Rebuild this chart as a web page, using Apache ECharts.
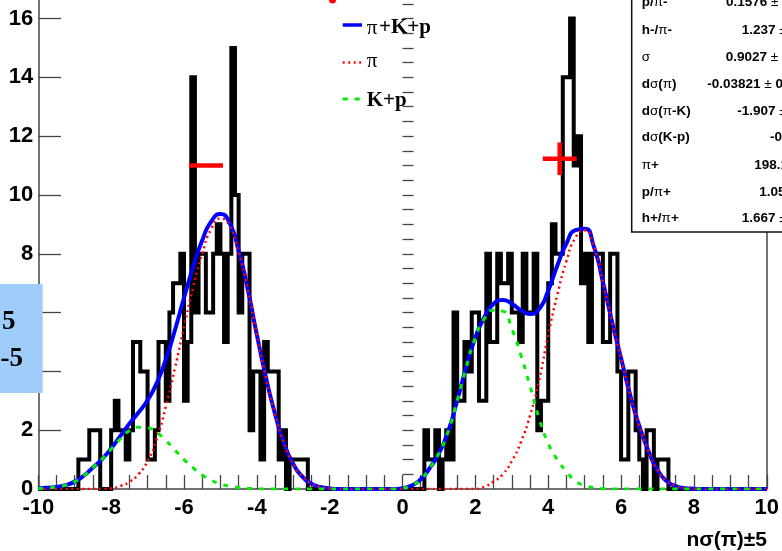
<!DOCTYPE html>
<html><head><meta charset="utf-8">
<script src="https://cdn.jsdelivr.net/npm/echarts@6/dist/echarts.min.js"></script>
<style>html,body{margin:0;padding:0;background:#fff}#c{width:782px;height:551px}</style>
</head><body><div id="c"></div>
<script>
// ---------- data ----------
const binStart = -10, binWidth = 0.1, binCount = 200;
const negStart = -9.5;   // first listed bin of the negative (shifted -5) half
const countsNeg = [0,0,0,0,0,0,1,1,1,2,
  2,2,0,0,0,2,3,2,2,1,
  2,5,5,4,4,1,1,2,5,5,
  3,6,7,7,8,3,5,14,6,8,
  8,6,6,8,9,8,5,8,15,10,
  6,8,8,2,4,4,1,5,4,4,
  4,1,2,0,1,1,1,1,1,0];
const posStart = 0.5;    // first listed bin of the positive (shifted +5) half
const countsPos = [0,2,1,1,2,0,1,2,1,6,
  3,3,5,4,6,6,3,3,8,5,
  5,8,7,7,8,6,6,5,8,6,
  6,8,2,3,3,7,9,8,8,14,
  14,16,11,12,7,8,5,8,8,8,
  5,5,8,8,4,1,1,4,4,2,
  1,0,2,2,0,1,1,1,0,0];

const curveX = [-10,-9.75,-9.5,-9.25,-9,-8.75,-8.5,-8.25,-8,-7.75,-7.5,-7.25,-7,-6.75,-6.5,-6.25,-6,-5.75,-5.5,-5.25,
  -5,-4.75,-4.5,-4.25,-4,-3.75,-3.5,-3.25,-3,-2.75,-2.5,-2.25,-2,-1.75,-1.5,-1.25,-1,-0.75,-0.5,-0.25,
  0,0.25,0.5,0.75,1,1.25,1.5,1.75,2,2.25,2.5,2.75,3,3.25,3.5,3.75,4,4.25,4.5,4.75,
  5,5.25,5.5,5.75,6,6.25,6.5,6.75,7,7.25,7.5,7.75,8,8.25,8.5,8.75,9,9.25,9.5,9.75,10];
const fitTotal = [0.02,0.04,0.07,0.13,0.25,0.45,0.73,1.02,1.38,1.8,2.22,2.6,3.02,3.6,4.4,5.4,6.5,7.55,8.45,9.1,
  9.35,9.05,8.1,6.8,5.25,3.8,2.55,1.55,0.85,0.42,0.18,0.07,0.02,0,0,0,0,0,0,0,
  0.03,0.12,0.33,0.72,1.22,1.95,3.0,4.15,5.15,5.85,6.3,6.43,6.3,6.08,5.95,6.12,6.75,7.6,8.35,8.8,
  8.85,8.25,7.05,5.7,4.45,3.2,2.15,1.3,0.65,0.27,0.1,0.03,0.01,0,0,0,0,0,0,0,0];
const fitPion = [0,0,0,0,0,0,0,0,0.02,0.1,0.24,0.5,0.95,1.7,2.8,4.1,5.5,6.85,8.0,8.85,
  9.2,8.95,8.05,6.8,5.25,3.8,2.55,1.55,0.85,0.42,0.18,0.07,0.02,0,0,0,0,0,0,0,
  0,0,0,0,0,0,0,0,0,0.08,0.25,0.5,0.95,1.6,2.5,3.7,5.25,6.6,7.75,8.55,
  8.8,8.25,7.05,5.7,4.45,3.2,2.15,1.3,0.65,0.27,0.1,0.03,0.01,0,0,0,0,0,0,0,0];
const fitKp = [0.02,0.04,0.07,0.13,0.25,0.45,0.73,1.02,1.36,1.7,1.98,2.1,2.08,1.92,1.65,1.32,1.0,0.72,0.48,0.3,
  0.17,0.1,0.05,0.02,0.01,0,0,0,0,0,0,0,0,0,0,0,0,0,0,0,
  0.03,0.12,0.33,0.72,1.22,1.95,3.0,4.15,5.15,5.8,6.08,6.05,5.45,4.55,3.5,2.4,1.55,1.0,0.6,0.27,
  0.12,0.05,0.01,0,0,0,0,0,0,0,0,0,0,0,0,0,0,0,0,0,0];

const markerX = [-5.395, 4.315];
const markerY = [11.0, 11.23];
const markerErrX = [0.465, 0.465];
const markerErrY = [0, 0.55];

const yMajor = [0,2,4,6,8,10,12,14,16];
const yMinor = [0.5,1,1.5,2,2.5,3,3.5,4,4.5,5,5.5,6,6.5,7,7.5,8,8.5,9,9.5,10,10.5,11,11.5,12,12.5,13,13.5,14,14.5,15,15.5,16,16.5];

const statLabels = ['{b|p/}{g|π}{b|-}', '{b|h-/}{g|π}{b|-}', '{g|σ}', '{b|d}{g|σ}{b|(}{g|π}{b|)}',
  '{b|d}{g|σ}{b|(}{g|π}{b|-K)}', '{b|d}{g|σ}{b|(K-p)}', '{g|π}{b|+}', '{b|p/}{g|π}{b|+}', '{b|h+/}{g|π}{b|+}'];
const statValues = ['0.1576', '1.237', '0.9027', '-0.03821', '-1.907', '-0.8012', '198.1', '1.052', '1.667'];
const statErrors = ['0.0213', '0.121', '0.0244', '0.0412', '0.132', '', '', '', '0.118'];

// ---------- build ----------
const histCounts = new Array(binCount).fill(0);
const k0 = Math.round((negStart - binStart) / binWidth);
countsNeg.forEach((c, i) => { histCounts[k0 + i] = c; });
const k1 = Math.round((posStart - binStart) / binWidth);
countsPos.forEach((c, i) => { histCounts[k1 + i] = c; });
const histData = histCounts.map((c, i) => [Math.round((binStart + i * binWidth) * 100) / 100, c]);
histData.push([binStart + binCount * binWidth, 0]);

const zip = ys => curveX.map((x, i) => [x, ys[i]]);

const markerSeries = [];
markerX.forEach((x, i) => {
  markerSeries.push({type:'line', data:[[x - markerErrX[i], markerY[i]], [x + markerErrX[i], markerY[i]]],
    symbol:'none', lineStyle:{color:'#ff0000', width:4.5, cap:'butt'}, z:3, silent:true});
  if (markerErrY[i] > 0) markerSeries.push({type:'line', data:[[x, markerY[i] - markerErrY[i]], [x, markerY[i] + markerErrY[i]]],
    symbol:'none', lineStyle:{color:'#ff0000', width:4.5, cap:'butt'}, z:3, silent:true});
});

const SANS = '"Liberation Sans", Arial, sans-serif';
const SERIF = '"Liberation Serif", "Times New Roman", serif';
const statRows = [2, 30, 57, 84.3, 111, 137.7, 165.7, 192.3, 218.3];
const statValX = [726, 741.7, 725.7, 707.3, 737.3, 770, 754.3, 759.3, 741.7];
const richStat = {
  b:{fontFamily:SANS, fontWeight:'bold', fontSize:13.5, fill:'#000'},
  g:{fontFamily:SANS, fontWeight:'normal', fontSize:13.5, fill:'#000'}
};
const mid = {textVerticalAlign:'middle', verticalAlign:'middle'};

const graphics = [];
// stats box
graphics.push({type:'rect', shape:{x:631.7, y:-10, width:200, height:242}, style:{fill:'#fff', stroke:'#111', lineWidth:1.5}, z:50});
statLabels.forEach((t, i) => {
  graphics.push({type:'text', x:641.7, y:statRows[i], z:51, style:Object.assign({text:t, rich:richStat}, mid)});
  const err = statErrors[i] ? '{g| ± }{b|' + statErrors[i] + '}' : '';
  graphics.push({type:'text', x:statValX[i], y:statRows[i], z:51,
    style:Object.assign({text:'{b|' + statValues[i] + '}' + err, rich:richStat}, mid)});
});
// legend
const legY = [25, 62.5, 99];
graphics.push({type:'line', shape:{x1:342.7, y1:legY[0], x2:362, y2:legY[0]}, style:{stroke:'#0000ff', lineWidth:3.5}, z:40});
graphics.push({type:'line', shape:{x1:342.7, y1:legY[1], x2:362, y2:legY[1]}, style:{stroke:'#ff0000', lineWidth:2.5, lineDash:[2,3.5]}, z:40});
graphics.push({type:'line', shape:{x1:342.7, y1:legY[2], x2:362, y2:legY[2]}, style:{stroke:'#00ee00', lineWidth:3, lineDash:[5,7]}, z:40});
const fontReg = '21px ' + SERIF, fontBold = 'bold 21px ' + SERIF;
graphics.push({type:'text', x:366.7, y:28, z:40, style:Object.assign({text:'π', font:fontReg, fill:'#000'}, mid)});
graphics.push({type:'text', x:379, y:28, z:40, style:Object.assign({text:'+K+p', font:fontBold, fill:'#000'}, mid)});
graphics.push({type:'text', x:366.7, y:61, z:40, style:Object.assign({text:'π', font:fontReg, fill:'#000'}, mid)});
graphics.push({type:'text', x:366.7, y:100.5, z:40, style:Object.assign({text:'K+p', font:fontBold, fill:'#000'}, mid)});
// red fragment at top
graphics.push({type:'circle', shape:{cx:332.5, cy:0, r:3.5}, style:{fill:'#ff0000'}, z:40});
// blue box on the left
graphics.push({type:'rect', shape:{x:-2, y:284, width:44.7, height:109}, style:{fill:'#9ecdfa'}, z:60});
graphics.push({type:'text', x:15.5, y:322, z:61, style:Object.assign({text:'5', font:'bold 27px ' + SERIF, fill:'#000', textAlign:'right', align:'right'}, mid)});
graphics.push({type:'text', x:23, y:359, z:61, style:Object.assign({text:'-5', font:'bold 27px ' + SERIF, fill:'#000', textAlign:'right', align:'right'}, mid)});
// x axis title
graphics.push({type:'text', x:767, y:540, z:40, style:Object.assign({text:'nσ(π)±5', font:'bold 21px ' + SANS, fill:'#000', textAlign:'right', align:'right'}, mid)});

const axisCol = '#444';
const option = {
  animation:false,
  backgroundColor:'#fff',
  grid:{left:38.3, right:14.3, top:0, bottom:62, containLabel:false},
  xAxis:{type:'value', min:-10, max:10, interval:2,
    axisLine:{show:true, onZero:false, lineStyle:{color:axisCol, width:1.5}},
    axisTick:{show:true, inside:true, length:14, lineStyle:{color:axisCol, width:1.3}},
    minorTick:{show:true, splitNumber:4, length:14, lineStyle:{color:axisCol, width:1.3}},
    axisLabel:{show:true, margin:8, color:'#000', fontFamily:SANS, fontWeight:'bold', fontSize:22},
    splitLine:{show:false}},
  yAxis:[
    {type:'value', min:0, max:16.63, position:'left',
      axisLine:{show:true, onZero:false, lineStyle:{color:axisCol, width:1.5}},
      axisTick:{show:true, inside:true, length:22.7, customValues:yMajor, lineStyle:{color:axisCol, width:1.3}},
      axisLabel:{show:true, margin:5, customValues:yMajor, color:'#000', fontFamily:SANS, fontWeight:'bold', fontSize:22},
      splitLine:{show:false}},
    {type:'value', min:0, max:16.63, position:'left',
      axisLine:{show:false},
      axisTick:{show:true, inside:true, length:11, customValues:yMinor, lineStyle:{color:axisCol, width:1.3}},
      axisLabel:{show:false}, splitLine:{show:false}},
    {type:'value', min:0, max:16.63, position:'right',
      axisLine:{show:true, onZero:false, lineStyle:{color:axisCol, width:1.5}},
      axisTick:{show:false}, axisLabel:{show:false}, splitLine:{show:false}}
  ],
  graphic:{elements:graphics},
  series:[
    {type:'line', name:'data', data:histData, step:'end', symbol:'none', clip:false,
      lineStyle:{color:'#000', width:4, join:'miter', cap:'butt'}, z:2, silent:true},
    ...markerSeries,
    {type:'line', name:'π+K+p', data:zip(fitTotal), smooth:0.6, symbol:'none',
      lineStyle:{color:'#0000ff', width:4, join:'round'}, z:4, silent:true},
    {type:'line', name:'π', data:zip(fitPion), smooth:0.6, symbol:'none',
      lineStyle:{color:'#ff0000', width:2.5, type:[2,3.5]}, z:5, silent:true},
    {type:'line', name:'K+p', data:zip(fitKp), smooth:0.6, symbol:'none',
      lineStyle:{color:'#00ee00', width:3, type:[5,7]}, z:6, silent:true}
  ]
};
const chart = echarts.init(document.getElementById('c'));
chart.setOption(option);
</script>
</body></html>
